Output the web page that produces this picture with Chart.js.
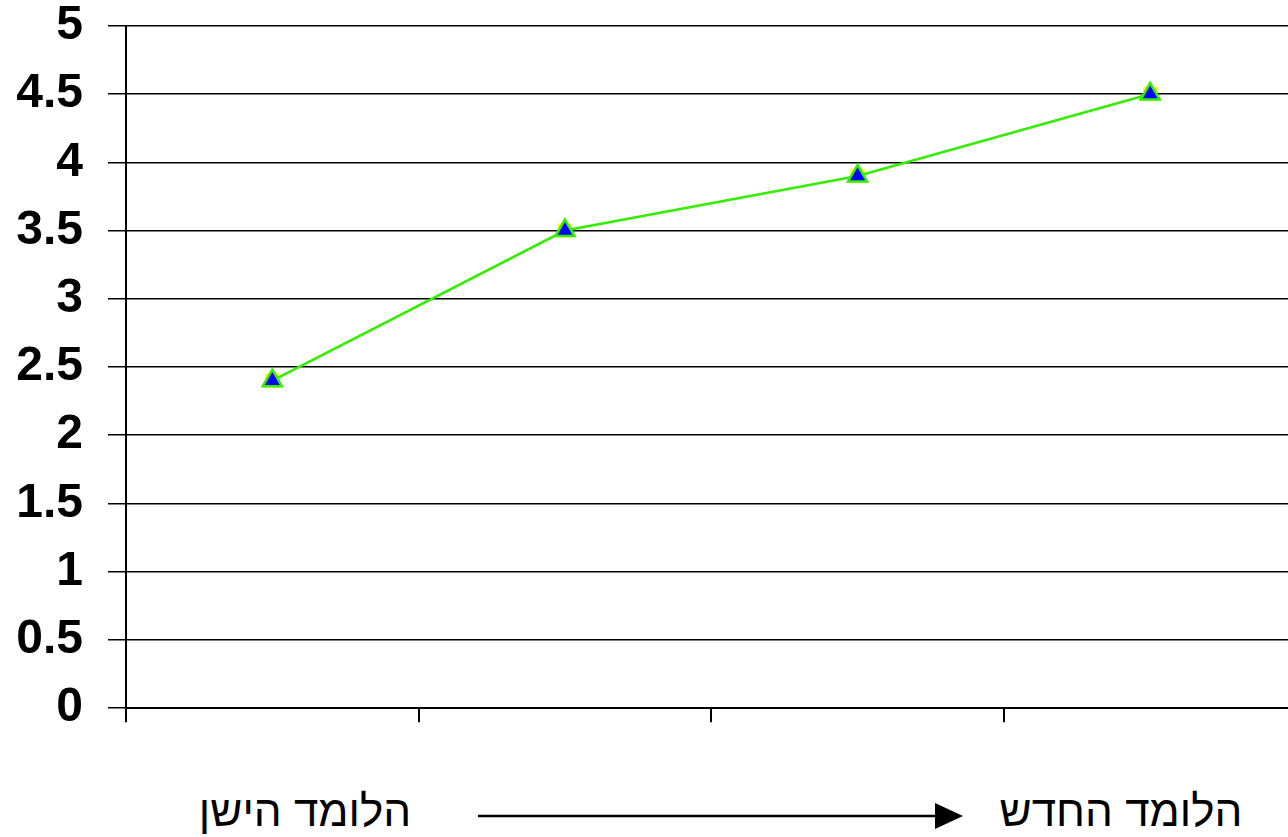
<!DOCTYPE html>
<html lang="he">
<head>
  <meta charset="UTF-8" />
  <title>הלומד הישן - הלומד החדש</title>
  <script src="https://cdn.jsdelivr.net/npm/chart.js"></script>
  <style>
    html, body {
      margin: 0;
      width: 1288px;
      height: 837px;
      overflow: hidden;
      background: #fff;
    }

    .wrap {
      position: absolute;
      left: 0;
      top: -28px;
      width: 1310px;
      height: 790px;
    }

    .caption {
      position: absolute;
      top: 786px;
      font-family: 'Liberation Sans', Arial, sans-serif;
      font-size: 44px;
      color: #000;
      direction: rtl;
      white-space: nowrap;
      text-align: center;
    }

    .arrow {
      position: absolute;
      left: 476px;
      top: 800px;
    }
  </style>
</head>
<body>
  <div class="wrap">
    <canvas id="lineChart" width="1310" height="790"></canvas>
  </div>

  <div class="caption" style="left:175px; width:260px;">הלומד הישן</div>
  <svg class="arrow" width="490" height="32">
    <line x1="2" y1="16" x2="462" y2="16" stroke="#000" stroke-width="2.5" />
    <polygon points="459,3 487,16 459,29" fill="#000" />
  </svg>
  <div class="caption" style="left:986px; width:270px;">הלומד החדש</div>

  <script>
    const categories = ['1', '2', '3', '4'];
    const scores = [2.4, 3.5, 3.9, 4.5];
    const yTicks = [0, 0.5, 1, 1.5, 2, 2.5, 3, 3.5, 4, 4.5, 5];

    new Chart(document.getElementById('lineChart').getContext('2d'), {
      type: 'line',
      data: {
        labels: categories,
        datasets: [{
          data: scores,
          borderColor: '#33ee00',
          borderWidth: 2.5,
          pointStyle: 'triangle',
          pointRadius: 11,
          pointBackgroundColor: '#0000ff',
          pointBorderColor: '#33ee00',
          pointBorderWidth: 2.5,
          tension: 0,
          order: 1
        }, {
          // yellow square peeking out behind each triangle
          data: scores,
          showLine: false,
          pointStyle: 'rect',
          pointRadius: 10,
          pointBackgroundColor: '#ffff00',
          pointBorderColor: '#ffff00',
          pointBorderWidth: 0,
          order: 2
        }]
      },
      options: {
        responsive: false,
        animation: false,
        events: [],
        layout: { padding: { top: 25, right: 0, left: 0, bottom: 0 } },
        plugins: {
          legend: { display: false },
          tooltip: { enabled: false }
        },
        scales: {
          x: {
            type: 'category',
            offset: true,
            grid: {
              offset: true,
              drawOnChartArea: false,
              color: '#000',
              lineWidth: 2,
              tickLength: 14
            },
            border: { display: true, color: '#000', width: 2 },
            ticks: { display: false },
            afterFit(scale) { scale.height = 32; }
          },
          y: {
            min: 0,
            max: 5,
            afterBuildTicks(scale) {
              scale.ticks = yTicks.map(v => ({ value: v }));
            },
            grid: {
              color: '#000',
              lineWidth: 1.5,
              tickLength: 18
            },
            border: { display: true, color: '#000', width: 2 },
            ticks: {
              padding: 25,
              color: '#000',
              font: { family: "'Liberation Sans', Arial, sans-serif", size: 48, weight: 'bold' },
              callback: v => String(v)
            },
            afterFit(scale) { scale.width = 126; }
          }
        }
      }
    });
  </script>
</body>
</html>
